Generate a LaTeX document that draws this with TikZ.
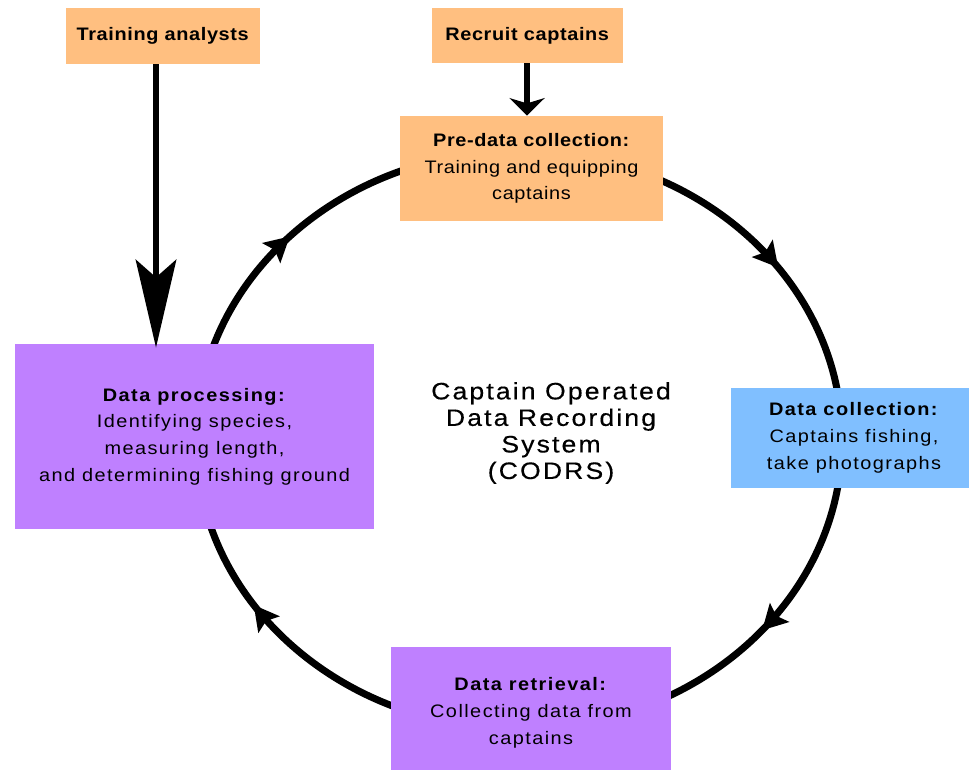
\documentclass[tikz,border=0pt]{standalone}
\usepackage{fontspec}
\setmainfont{Liberation Sans}[FakeStretch=1.1,LetterSpace=3.5]
\newfontfamily\widefont{Liberation Sans}[FakeStretch=1.1,LetterSpace=8]
\newfontfamily\titlefont{Liberation Sans}[FakeStretch=1.12,LetterSpace=9,FakeBold=0.4]
\usetikzlibrary{arrows.meta,decorations.markings}
\definecolor{peach}{HTML}{FFBF80}
\definecolor{lilac}{HTML}{BF80FF}
\definecolor{sky}{HTML}{80BFFF}
\tikzset{
  stage/.style={fill=#1, align=center, inner sep=0pt, font=\fontsize{10.3}{15}\selectfont},
  wide/.style={font=\widefont\fontsize{10.3}{15.2}\selectfont},
  cyc/.style={line width=4pt, decoration={markings,
      mark=at position #1 with {\arrow{Stealth[length=14pt,width=15pt,inset=2.5pt]}}},
    postaction={decorate}},
  feed/.style={line width=3.8pt}
}
\begin{document}
\begin{tikzpicture}[x=0.02cm, y=0.02cm]
    \useasboundingbox (0,0) rectangle (969,769);
    % Cycle
    \coordinate (pre-c) at (519,618);
    \coordinate (coll-c) at (842,329);
    \coordinate (retr-c) at (519,40);
    \coordinate (proc-c) at (196,329);
    \draw[cyc=0.61] (pre-c) .. controls +(178,0) and +(0,160) .. (coll-c);
    \draw[cyc=0.44] (coll-c) .. controls +(0,-160) and +(178,0) .. (retr-c);
    \draw[cyc=0.63] (retr-c) .. controls +(-178,0) and +(0,-160) .. (proc-c);
    \draw[cyc=0.48] (proc-c) .. controls +(0,160) and +(-178,0) .. (pre-c);

    % Stages
    \node[stage=peach, minimum width=3.88cm, minimum height=1.12cm] (anal) at (163,733) {\textbf{Training analysts}};
    \node[stage=peach, minimum width=3.82cm, minimum height=1.10cm] (recr) at (527.5,733.5) {\textbf{Recruit captains}};
    \node[stage=peach, minimum width=5.26cm, minimum height=2.10cm] (pre) at (531.5,600.5)
        {\textbf{Pre-data collection:}\\Training and equipping\\captains};
    \node[stage=sky, wide, minimum width=4.92cm, minimum height=2.00cm] (coll) at (854,331)
        {\textbf{Data collection:}\\Captains fishing,\\take photographs};
    \node[stage=lilac, wide, minimum width=5.60cm, minimum height=2.64cm] (retr) at (531,56)
        {\textbf{Data retrieval:}\\Collecting data from\\captains};
    \node[stage=lilac, wide, minimum width=7.18cm, minimum height=3.70cm] (proc) at (194.5,332.5)
        {\textbf{Data processing:}\\Identifying species,\\measuring length,\\and determining fishing ground};
    \node[align=center, font=\titlefont\fontsize{13.5}{15.1}\selectfont] (codrs) at (551,336)
        {Captain Operated\\Data Recording\\System\\(CODRS)};

    % Inputs
    \draw[feed, -{Stealth[length=50pt,width=23pt,inset=10pt]}] (anal.south -| 156,0) -- ([yshift=-0.08cm]proc.north -| 156,0);
    \draw[feed, -{Stealth[length=10pt,width=20pt,inset=3pt]}] (recr.south -| 527,0) -- (pre.north -| 527,0);
\end{tikzpicture}
\end{document}
